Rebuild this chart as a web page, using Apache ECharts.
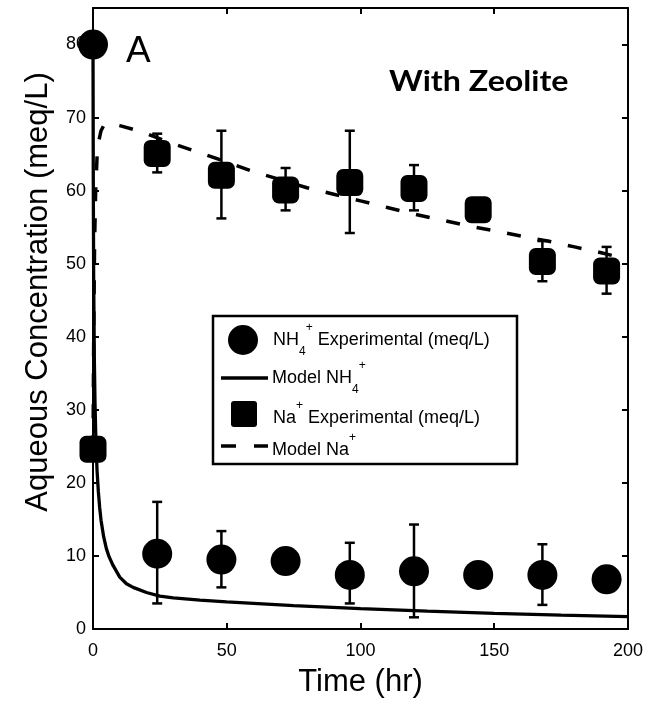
<!DOCTYPE html>
<html>
<head>
<meta charset="utf-8">
<script src="https://cdn.jsdelivr.net/npm/echarts@6/dist/echarts.min.js"></script>
<style>
  html, body { margin: 0; padding: 0; background: #fff; }
  #chart { width: 646px; height: 708px; }
</style>
</head>
<body>
<div id="chart"></div>
<script>
// sampling times (hr) of the measurements
const expTime = [0, 24, 48, 72, 96, 120, 144, 168, 192];
// NH4+ measured (meq/L) with error bar ends (null = no bar drawn)
const nh4Exp = [80, 10.3, 9.5, 9.3, 7.4, 7.9, 7.4, 7.4, 6.8];
const nh4Low = [null, 3.5, 5.7, null, 3.5, 1.6, null, 3.3, null];
const nh4High = [null, 17.4, 13.4, null, 11.8, 14.3, null, 11.6, null];
// Na+ measured (meq/L)
const naExp = [24.6, 65.1, 62.1, 60.1, 61.1, 60.3, 57.4, 50.3, 49.0];
const naLow = [null, 62.5, 56.2, 57.3, 54.2, 57.3, null, 47.6, 45.9];
const naHigh = [null, 67.8, 68.2, 63.1, 68.2, 63.5, null, 53.1, 52.3];

// model curves
const nh4ModelT = [0, 0.1, 0.25, 0.5, 0.75, 1, 1.5, 2, 2.5, 3, 4, 5, 6, 7.5, 10, 12.5, 15, 20, 25, 30, 40, 50, 60, 75, 100, 125, 150, 175, 200];
const nh4ModelY = [80, 62, 48, 37, 31, 27, 21.8, 18.8, 16.6, 14.9, 12.6, 11, 9.9, 8.7, 7.1, 6.2, 5.7, 5.0, 4.5, 4.25, 3.95, 3.7, 3.5, 3.2, 2.8, 2.45, 2.15, 1.9, 1.7];
const naModelT = [0, 0.3, 0.6, 1, 1.5, 2, 3, 4, 6, 8, 10, 15, 20, 30, 40, 50, 60, 70, 80, 90, 100, 110, 120, 130, 140, 150, 160, 170, 180, 190, 200];
const naModelY = [24.6, 42, 53, 60, 64.5, 66.5, 68.2, 68.9, 69.2, 69.1, 68.9, 68.4, 67.8, 66.4, 65.2, 63.9, 62.6, 61.5, 60.4, 59.5, 58.6, 57.7, 56.8, 56, 55.2, 54.5, 53.8, 53.1, 52.3, 51.5, 50.6];

const xTicks = [0, 50, 100, 150, 200];
const yTicks = [0, 10, 20, 30, 40, 50, 60, 70, 80];

const FONT = "'Liberation Sans', Arial, sans-serif";

function pairs(xs, ys) {
  return xs.map((x, i) => [x, ys[i]]);
}
function bars(xs, lo, hi) {
  const out = [];
  xs.forEach((x, i) => {
    if (lo[i] != null) out.push([x, lo[i], hi[i]]);
  });
  return out;
}

function errorBar(params, api) {
  const x = api.value(0);
  const p1 = api.coord([x, api.value(1)]);
  const p2 = api.coord([x, api.value(2)]);
  const half = 5;
  const st = { stroke: '#000', lineWidth: 2.5 };
  return {
    type: 'group',
    children: [
      { type: 'line', shape: { x1: p1[0], y1: p1[1], x2: p2[0], y2: p2[1] }, style: st },
      { type: 'line', shape: { x1: p1[0] - half, y1: p1[1], x2: p1[0] + half, y2: p1[1] }, style: st },
      { type: 'line', shape: { x1: p2[0] - half, y1: p2[1], x2: p2[0] + half, y2: p2[1] }, style: st }
    ]
  };
}

const axisCommon = {
  type: 'value',
  axisLine: { onZero: false, lineStyle: { color: '#000', width: 2 } },
  axisTick: { inside: true, length: 6, lineStyle: { color: '#000', width: 2 } },
  splitLine: { show: false }
};

const rich = {
  n: { fontSize: 18, lineHeight: 36, fontFamily: FONT, color: '#000' },
  sub: { fontSize: 12, lineHeight: 12, verticalAlign: 'bottom', fontFamily: FONT, color: '#000' },
  sup: { fontSize: 12, lineHeight: 24, verticalAlign: 'top', fontFamily: FONT, color: '#000' }
};

function legendText(x, y, text) {
  return { type: 'text', x: x, y: y, z: 101, style: { text: text, rich: rich, align: 'left', verticalAlign: 'middle' } };
}

let chart = echarts.init(document.getElementById('chart'));
chart.setOption({
  animation: false,
  backgroundColor: '#fff',
  grid: { left: 93, right: 18, top: 8, bottom: 79 },
  xAxis: [
    Object.assign({}, axisCommon, {
      min: 0, max: 200, interval: 50,
      name: 'Time (hr)', nameLocation: 'middle', nameGap: 38,
      nameTextStyle: { fontSize: 31, fontFamily: FONT, color: '#000' },
      axisLabel: { fontSize: 18, fontFamily: FONT, color: '#000', margin: 13,
        formatter: v => (xTicks.indexOf(v) >= 0 ? String(v) : '') }
    }),
    Object.assign({}, axisCommon, {
      position: 'top', min: 0, max: 200, interval: 50, axisLabel: { show: false }
    })
  ],
  yAxis: [
    Object.assign({}, axisCommon, {
      min: 0, max: 85, interval: 10,
      axisLabel: { fontSize: 18, fontFamily: FONT, color: '#000', margin: 7, showMaxLabel: false,
        formatter: v => (yTicks.indexOf(v) >= 0 ? String(v) : '') }
    }),
    Object.assign({}, axisCommon, {
      position: 'right', min: 0, max: 85, interval: 10, axisLabel: { show: false }
    })
  ],
  graphic: [
    {
      type: 'text', x: 38, y: 292, rotation: Math.PI / 2,
      style: { text: 'Aqueous Concentration (meq/L)', font: '31px ' + FONT, fill: '#000', align: 'center', verticalAlign: 'middle' }
    },
    { type: 'text', x: 126, y: 52, style: { text: 'A', font: '37px ' + FONT, fill: '#000', align: 'left', verticalAlign: 'middle' } },
    { type: 'text', x: 389, y: 82, scaleX: 1.15, style: { text: 'With Zeolite', font: 'bold 28px Lato, "Open Sans", sans-serif', fill: '#000', align: 'left', verticalAlign: 'middle' } },
    // legend box
    { type: 'rect', z: 100, shape: { x: 213, y: 316, width: 304, height: 148 }, style: { fill: '#fff', stroke: '#000', lineWidth: 2.5 } },
    { type: 'circle', z: 101, shape: { cx: 243, cy: 340, r: 15 }, style: { fill: '#000' } },
    { type: 'line', z: 101, shape: { x1: 221, y1: 378, x2: 268, y2: 378 }, style: { stroke: '#000', lineWidth: 3.5 } },
    { type: 'rect', z: 101, shape: { x: 231, y: 401, width: 26, height: 26, r: 3 }, style: { fill: '#000' } },
    { type: 'line', z: 101, shape: { x1: 221, y1: 446, x2: 268, y2: 446 }, style: { stroke: '#000', lineWidth: 3.5, lineDash: [15, 18] } },
    legendText(273, 340, '{n|NH}{sub|4}{sup|+}{n| Experimental (meq/L)}'),
    legendText(272, 378, '{n|Model NH}{sub|4}{sup|+}'),
    legendText(273, 418, '{n|Na}{sup|+}{n| Experimental (meq/L)}'),
    legendText(272, 450, '{n|Model Na}{sup|+}')
  ],
  series: [
    {
      name: 'Model NH4+', type: 'line', data: pairs(nh4ModelT, nh4ModelY),
      showSymbol: false, symbol: 'none',
      lineStyle: { color: '#000', width: 3.3 }, z: 2
    },
    {
      name: 'Model Na+', type: 'line', data: pairs(naModelT, naModelY),
      showSymbol: false, symbol: 'none',
      lineStyle: { color: '#000', width: 3.5, type: [14, 17] }, z: 2
    },
    { type: 'custom', renderItem: errorBar, data: bars(expTime, nh4Low, nh4High), z: 3 },
    { type: 'custom', renderItem: errorBar, data: bars(expTime, naLow, naHigh), z: 3 },
    {
      name: 'NH4+ Experimental', type: 'scatter', data: pairs(expTime, nh4Exp),
      symbol: 'circle', symbolSize: 30, itemStyle: { color: '#000', opacity: 1 }, z: 4
    },
    {
      name: 'Na+ Experimental', type: 'scatter', data: pairs(expTime, naExp),
      symbol: 'roundRect', symbolSize: 27, itemStyle: { color: '#000', opacity: 1 }, z: 4
    }
  ]
});
</script>
</body>
</html>
